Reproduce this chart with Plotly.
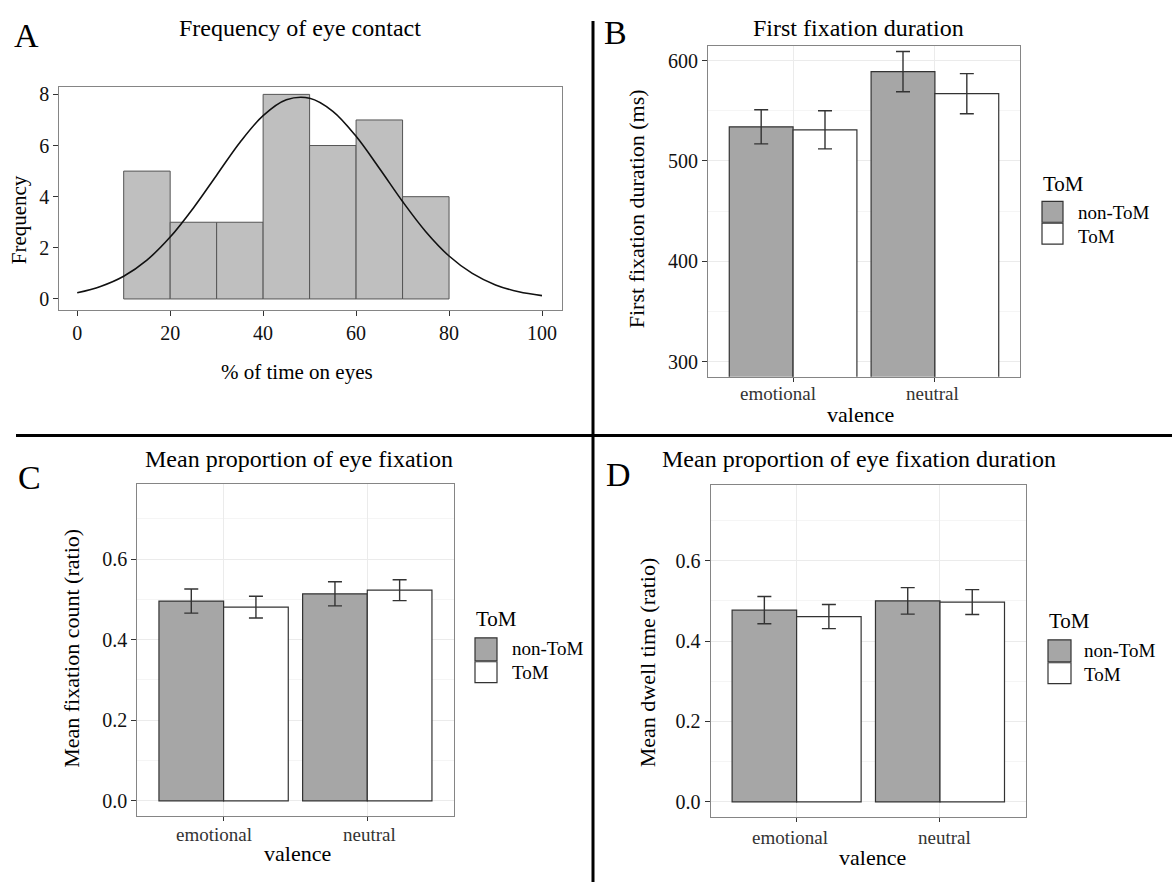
import plotly.graph_objects as go

W, H = 1172, 882
FONT = "Liberation Serif, Times New Roman, serif"

# ---------------- data ----------------
# Panel A: histogram of % time on eyes + fitted normal curve
hist_edges = [10, 20, 30, 40, 50, 60, 70, 80]
hist_counts = [5, 3, 3, 8, 6, 7, 4]
curve_x = [0, 5, 10, 15, 20, 25, 30, 35, 40, 45, 50, 55, 60, 65, 70, 75, 80, 85, 90, 95, 100]
curve_y = [0.24, 0.49, 0.89, 1.52, 2.42, 3.56, 4.84, 6.12, 7.17, 7.79, 7.85, 7.34,
           6.36, 5.11, 3.81, 2.63, 1.68, 1.00, 0.55, 0.28, 0.13]
a_xticks = [0, 20, 40, 60, 80, 100]
a_yticks = [0, 2, 4, 6, 8]

valence = ["emotional", "neutral"]
groups = ["non-ToM", "ToM"]

# Panel B: first fixation duration (ms)
ffd_nontom = [534, 589]
ffd_nontom_err = [17, 20]
ffd_tom = [531, 567]
ffd_tom_err = [19, 20]

# Panel C: mean fixation count (ratio)
cnt_nontom = [0.496, 0.514]
cnt_nontom_err = [0.030, 0.030]
cnt_tom = [0.481, 0.523]
cnt_tom_err = [0.027, 0.026]

# Panel D: mean dwell time (ratio)
dwell_nontom = [0.477, 0.500]
dwell_nontom_err = [0.034, 0.033]
dwell_tom = [0.461, 0.497]
dwell_tom_err = [0.030, 0.031]

# ---------------- styling ----------------
GREY_BAR = "#a6a6a6"
HIST_FILL = "#bfbfbf"
EDGE = "#333333"
FRAME = "#858585"
GRID = "#ebebeb"
GRID_MINOR = "#f5f5f5"


def px(x):
    return x / W


def py(y):
    return 1 - y / H


fig = go.Figure()

# Panel A
centers = [(hist_edges[i] + hist_edges[i + 1]) / 2 for i in range(len(hist_counts))]
widths = [hist_edges[i + 1] - hist_edges[i] for i in range(len(hist_counts))]
fig.add_trace(go.Bar(x=centers, y=hist_counts, width=widths,
                     marker=dict(color=HIST_FILL, line=dict(color="#555555", width=1)),
                     xaxis="x", yaxis="y", showlegend=False))
fig.add_trace(go.Scatter(x=curve_x, y=curve_y, mode="lines",
                         line=dict(color="#111111", width=1.6, shape="spline"),
                         xaxis="x", yaxis="y", showlegend=False))


def add_pair(xa, ya, nontom, nontom_err, tom, tom_err):
    ebar = dict(type="data", color=EDGE, thickness=1.4, width=7)
    fig.add_trace(go.Bar(x=valence, y=nontom, name=groups[0],
                         error_y=dict(array=nontom_err, **ebar),
                         marker=dict(color=GREY_BAR, line=dict(color=EDGE, width=1.2)),
                         xaxis=xa, yaxis=ya, showlegend=False))
    fig.add_trace(go.Bar(x=valence, y=tom, name=groups[1],
                         error_y=dict(array=tom_err, **ebar),
                         marker=dict(color="white", line=dict(color=EDGE, width=1.2)),
                         xaxis=xa, yaxis=ya, showlegend=False))


add_pair("x2", "y2", ffd_nontom, ffd_nontom_err, ffd_tom, ffd_tom_err)
add_pair("x3", "y3", cnt_nontom, cnt_nontom_err, cnt_tom, cnt_tom_err)
add_pair("x4", "y4", dwell_nontom, dwell_nontom_err, dwell_tom, dwell_tom_err)

common = dict(showline=True, mirror=True, linecolor=FRAME, linewidth=1.2,
              ticks="outside", tickcolor=EDGE, ticklen=5, zeroline=False)

layout_axes = dict(
    xaxis=dict(domain=[px(59.3), px(562)], range=[-3.85, 104.3], tickvals=a_xticks,
               showgrid=False, anchor="y", tickfont=dict(size=20, color="#111"), **common),
    yaxis=dict(domain=[py(308), py(84)], range=[-0.43, 8.3], tickvals=a_yticks,
               showgrid=False, anchor="x", tickfont=dict(size=20, color="#111"), **common),
)


def bar_axes(n, xd, yd, yrange, dtick, tick0, minor_dtick, fmt):
    layout_axes[f"xaxis{n}"] = dict(domain=[px(xd[0]), px(xd[1])], type="category",
                                    range=[-0.6, 1.6], anchor=f"y{n}", showgrid=True,
                                    gridcolor=GRID, showticklabels=False, ticklen=4,
                                    **{k: v for k, v in common.items() if k != "ticklen"})
    layout_axes[f"yaxis{n}"] = dict(domain=[py(yd[1]), py(yd[0])], range=yrange,
                                    dtick=dtick, tick0=tick0, tickformat=fmt,
                                    anchor=f"x{n}", showgrid=True, gridcolor=GRID,
                                    minor=dict(dtick=minor_dtick, tick0=tick0, showgrid=True,
                                               gridcolor=GRID_MINOR, ticks=""),
                                    tickfont=dict(size=20, color="#111"), **common)


bar_axes(2, (708, 1020), (42.7, 375), [285, 615], 100, 300, 50, "d")
bar_axes(3, (137.4, 453.5), (482.3, 815.7), [-0.0375, 0.7875], 0.2, 0, 0.1, ".1f")
bar_axes(4, (710.6, 1026), (484, 816.7), [-0.0375, 0.7875], 0.2, 0, 0.1, ".1f")

annotations = []


def text(t, x, y, size, angle=0, xanchor="center", color="black"):
    annotations.append(dict(text=t, x=px(x), y=py(y), xref="paper", yref="paper",
                            xanchor=xanchor, yanchor="middle", showarrow=False,
                            textangle=angle, font=dict(family=FONT, size=size, color=color)))


# panel letters
text("A", 26, 33, 34)
text("B", 615, 30, 34)
text("C", 29, 476, 34)
text("D", 618, 473, 34)
# titles
text("Frequency of eye contact", 300, 25, 24)
text("First fixation duration", 858, 25, 24)
text("Mean proportion of eye fixation", 299, 458, 24)
text("Mean proportion of eye fixation duration", 859, 458, 24)
# axis titles
text("% of time on eyes", 297, 370, 21)
text("Frequency", 19, 217, 21, angle=-90)
text("First fixation duration (ms)", 636, 207, 22, angle=-90)
text("valence", 860, 413, 22)
text("Mean fixation count (ratio)", 71.5, 647.5, 22, angle=-90)
text("valence", 297, 853, 22)
text("Mean dwell time (ratio)", 647.5, 662, 22, angle=-90)
text("valence", 872, 857, 22)

# category tick labels of the bar panels (as placed in the original)
for (x_emo, x_neu, y_lab) in [(778, 932.5, 392), (214, 369, 834), (790, 944.5, 837)]:
    text(valence[0], x_emo, y_lab, 19, color="#333")
    text(valence[1], x_neu, y_lab, 19, color="#333")

shapes = []


def legend(title_x, title_y, kx0, kx1, k1, k2, lab_x, lab_y1, lab_y2):
    text("ToM", title_x, title_y, 21, xanchor="left")
    for (y0, y1), fill in zip([k1, k2], [GREY_BAR, "white"]):
        shapes.append(dict(type="rect", xref="paper", yref="paper",
                           x0=px(kx0), x1=px(kx1), y0=py(y1), y1=py(y0),
                           fillcolor=fill, line=dict(color=EDGE, width=1.2)))
    text(groups[0], lab_x, lab_y1, 19, xanchor="left")
    text(groups[1], lab_x, lab_y2, 19, xanchor="left")


legend(1041, 182, 1042, 1063, (199, 220), (221, 242), 1076, 210, 234)
legend(474, 618, 475, 497, (637, 660), (661, 682), 510, 648, 672)
legend(1046.6, 620, 1048, 1071, (639, 661), (662, 683), 1082, 650, 674)

# separator lines
shapes.append(dict(type="line", xref="paper", yref="paper", x0=px(593), x1=px(593),
                   y0=py(18), y1=py(H), line=dict(color="black", width=3)))
shapes.append(dict(type="line", xref="paper", yref="paper", x0=px(16), x1=px(W),
                   y0=py(434), y1=py(434), line=dict(color="black", width=3)))

fig.update_layout(
    width=W, height=H, autosize=False,
    margin=dict(l=0, r=0, t=0, b=0),
    paper_bgcolor="white", plot_bgcolor="white",
    font=dict(family=FONT, color="black"),
    barmode="group", bargap=0.1, bargroupgap=0,
    showlegend=False,
    annotations=annotations, shapes=shapes,
    **layout_axes,
)

fig.write_html("out.html")
